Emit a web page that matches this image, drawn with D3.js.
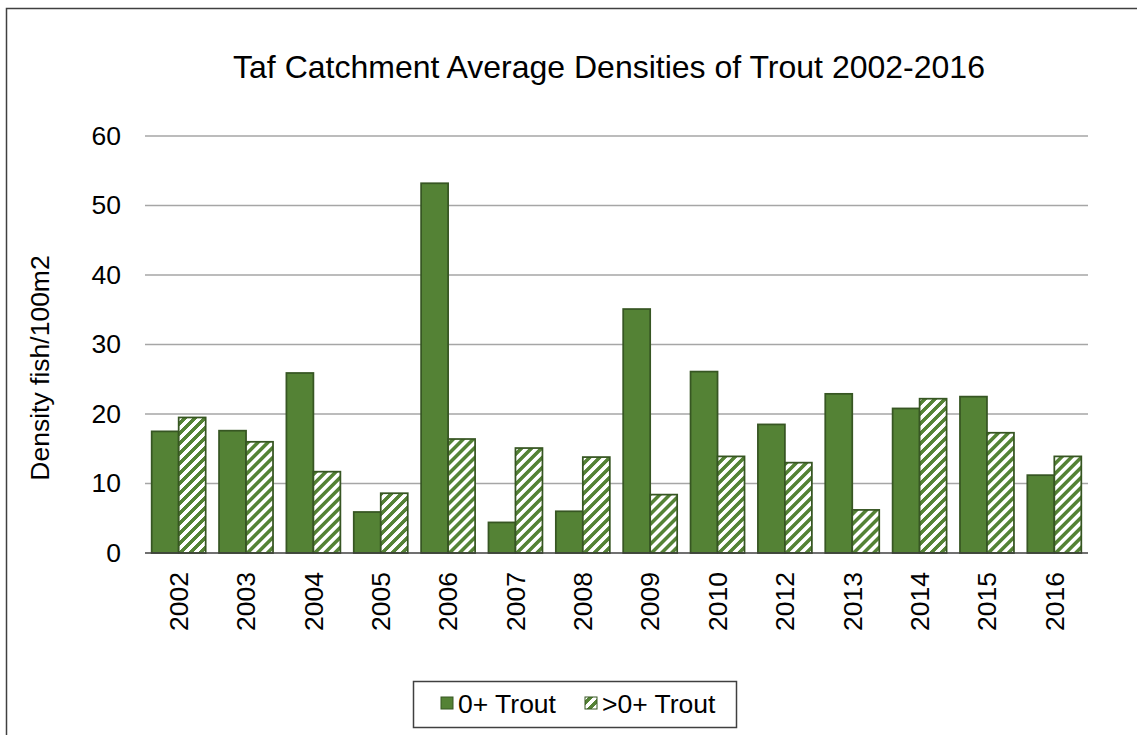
<!DOCTYPE html>
<html>
<head>
<meta charset="utf-8">
<script src="https://cdn.jsdelivr.net/npm/d3@7"></script>
<style>
  html, body { margin: 0; padding: 0; background: #fff; }
  svg { display: block; font-family: "Liberation Sans", Arial, sans-serif; }
</style>
</head>
<body>
<svg id="chart" width="1137" height="735"></svg>
<script>
const title = "Taf Catchment Average Densities of Trout 2002-2016";
const yAxisTitle = "Density fish/100m2";
const years = ["2002","2003","2004","2005","2006","2007","2008","2009","2010","2012","2013","2014","2015","2016"];
const seriesNames = ["0+ Trout", ">0+ Trout"];
const trout0 = [17.5, 17.6, 25.9, 5.9, 53.2, 4.4, 6.0, 35.1, 26.1, 18.5, 22.9, 20.8, 22.5, 11.2];
const trout1 = [19.5, 16.0, 11.7, 8.6, 16.4, 15.1, 13.8, 8.4, 13.9, 13.0, 6.2, 22.2, 17.3, 13.9];
const yTicks = [0, 10, 20, 30, 40, 50, 60];

const W = 1137, H = 735;
const plot = { left: 145, right: 1088, top: 136, bottom: 553 };
const green = "#548235", edge = "#375623";

const svg = d3.select("#chart");

// hatch pattern (wide upward diagonal)
const P = 10;
const defs = svg.append("defs");
const pat = defs.append("pattern").attr("id", "hatch")
  .attr("patternUnits", "userSpaceOnUse").attr("width", P).attr("height", P);
pat.append("rect").attr("width", P).attr("height", P).attr("fill", green);
const px = [];
for (let x = 0; x < P; x++) for (let y = 0; y < P; y++) if ((x + y) % P < 5) px.push([x, y]);
pat.selectAll("rect.p").data(px).join("rect").attr("class", "p")
  .attr("x", d => d[0]).attr("y", d => d[1]).attr("width", 1).attr("height", 1)
  .attr("fill", "#fff").attr("shape-rendering", "crispEdges");

// outer border
svg.append("rect").attr("x", 6.5).attr("y", 8.5).attr("width", W + 10).attr("height", H + 10)
  .attr("fill", "none").attr("stroke", "#404040").attr("stroke-width", 1.5);

// title
svg.append("text").attr("x", 609).attr("y", 78).attr("text-anchor", "middle")
  .attr("font-size", 32).attr("fill", "#000").text(title);

const x0 = d3.scaleBand().domain(years).range([plot.left, plot.right]).paddingInner(0).paddingOuter(0);
const x1 = d3.scaleBand().domain([0, 1]).range([0, x0.bandwidth()]).paddingOuter(0.248).paddingInner(0);
const y = d3.scaleLinear().domain([0, 60]).range([plot.bottom, plot.top]);

// gridlines
svg.append("g").selectAll("line").data(yTicks.filter(t => t > 0)).join("line")
  .attr("x1", plot.left).attr("x2", plot.right)
  .attr("y1", d => y(d)).attr("y2", d => y(d))
  .attr("stroke", "#a6a6a6").attr("stroke-width", 1.5);

// y axis labels
const yAxis = d3.axisLeft(y).tickValues(yTicks).tickSize(0).tickPadding(24);
const gy = svg.append("g").attr("transform", `translate(${plot.left},0)`).call(yAxis);
gy.select(".domain").remove();
gy.selectAll("text").attr("font-size", 26.5).attr("fill", "#000")
  .attr("font-family", "Liberation Sans, Arial, sans-serif");

// bars
const groups = svg.append("g").selectAll("g").data(years).join("g")
  .attr("transform", d => `translate(${x0(d)},0)`);
groups.append("rect")
  .attr("x", x1(0)).attr("width", x1.bandwidth())
  .attr("y", (d, i) => y(trout0[i])).attr("height", (d, i) => y(0) - y(trout0[i]))
  .attr("fill", green).attr("stroke", edge).attr("stroke-width", 1.75);
groups.append("rect")
  .attr("x", x1(1)).attr("width", x1.bandwidth())
  .attr("y", (d, i) => y(trout1[i])).attr("height", (d, i) => y(0) - y(trout1[i]))
  .attr("fill", "url(#hatch)").attr("stroke", edge).attr("stroke-width", 1.75);

// x axis line
svg.append("line").attr("x1", plot.left).attr("x2", plot.right)
  .attr("y1", y(0)).attr("y2", y(0)).attr("stroke", "#404040").attr("stroke-width", 1.5);

// x labels (rotated)
const xAxis = d3.axisBottom(x0).tickSize(0).tickPadding(0);
const gx = svg.append("g").attr("transform", `translate(0,${plot.bottom})`).call(xAxis);
gx.select(".domain").remove();
gx.selectAll("text")
  .attr("font-size", 26.5).attr("fill", "#000")
  .attr("font-family", "Liberation Sans, Arial, sans-serif")
  .attr("transform", "rotate(-90)")
  .attr("x", -19).attr("y", 0).attr("dy", "0.35em")
  .attr("text-anchor", "end");

// y axis title
svg.append("text")
  .attr("transform", `translate(49,${368}) rotate(-90)`)
  .attr("text-anchor", "middle").attr("font-size", 26.5).attr("fill", "#000")
  .text(yAxisTitle);

// legend
const lg = svg.append("g");
lg.append("rect").attr("x", 413.5).attr("y", 681.5).attr("width", 323).attr("height", 46)
  .attr("fill", "#fff").attr("stroke", "#404040").attr("stroke-width", 1.5);
const legendItems = [
  { name: seriesNames[0], fill: green, x: 441 },
  { name: seriesNames[1], fill: "url(#hatch)", x: 585 }
];
const li = lg.selectAll("g.item").data(legendItems).join("g").attr("class", "item");
li.append("rect").attr("x", d => d.x).attr("y", 697).attr("width", 12).attr("height", 12)
  .attr("fill", d => d.fill).attr("stroke", edge).attr("stroke-width", 1);
li.append("text").attr("x", d => d.x + 17).attr("y", 713)
  .attr("font-size", 26.5).attr("fill", "#000").text(d => d.name);
</script>
</body>
</html>
